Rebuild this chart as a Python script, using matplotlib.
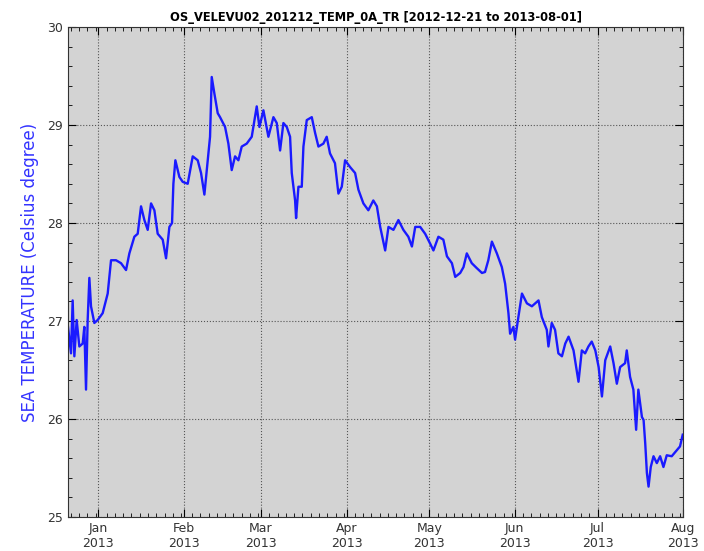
import numpy as np
import pandas as pd
import matplotlib
matplotlib.use('Agg')
import matplotlib.pyplot as plt
import matplotlib.dates as mdates

# values: days since 2012-12-21 and temperature (deg C)
start = pd.Timestamp('2012-12-21')
days = [0.0, 1.09, 1.69, 2.3, 3.14, 4.11, 5.32, 5.92, 6.53, 7.13, 7.74, 8.34, 9.55, 10.76,
        12.57, 14.39, 15.6, 17.41, 19.22, 21.04, 22.25, 24.06, 25.27, 26.48, 27.69, 28.9,
        30.11, 31.32, 32.52, 34.34, 35.55, 36.76, 37.72, 38.21, 38.93, 40.38, 41.59, 43.4,
        45.22, 47.03, 48.24, 49.45, 50.66, 51.5, 52.11, 53.08, 54.29,
        55.13, 56.95, 58.15, 59.36, 60.57, 61.78, 62.99, 64.8, 66.62, 68.43, 69.4, 70.85,
        72.66, 74.48, 75.69, 76.9, 78.1, 79.32, 80.52, 81.13, 82.34, 82.7, 83.55, 84.76,
        85.36, 86.57, 88.39, 89.59, 90.8, 92.6, 93.8, 95.0, 96.8, 98.05, 99.27, 100.47,
        102.3, 104.1, 105.3, 107.1, 108.9, 110.7, 112.0,
        113.2, 115.0, 116.2, 118.0, 119.8, 121.6, 123.4, 124.7, 125.9, 127.7, 129.5, 131.3,
        132.5, 134.3, 136.1, 137.4, 139.2, 140.4, 142.2, 143.4, 144.6, 146.4, 148.2, 150.1,
        151.2, 152.4, 153.7, 155.5, 157.3, 158.5, 159.7, 160.3, 161.5, 162.1, 163.3, 164.6,
        166.4, 168.2,
        170.6, 171.8, 173.6, 174.2, 175.4, 176.6, 177.8, 179.1, 180.3, 181.5, 183.3, 185.1,
        186.3, 187.5, 188.7, 189.9, 191.2, 192.4, 193.6, 194.8, 196.6, 197.8, 199.0, 200.2,
        202.0, 202.6, 203.8, 205.0, 206.0, 206.8, 208.1, 208.7, 209.3, 209.9, 210.5, 211.3,
        212.3, 213.5, 214.7, 215.9, 217.1, 218.9, 220.7, 221.9, 222.9]
temps = [26.94, 26.67, 27.21, 26.64, 27.01, 26.74, 26.77, 26.94, 26.30, 27.01, 27.44, 27.15, 26.98, 27.01,
         27.08, 27.28, 27.62, 27.62, 27.59, 27.52, 27.69, 27.86, 27.89, 28.17, 28.03, 27.93,
         28.20, 28.13, 27.89, 27.83, 27.64, 27.96, 28.00, 28.40, 28.64, 28.47, 28.42, 28.40,
         28.68, 28.64, 28.51, 28.29, 28.64, 28.88, 29.49, 29.32, 29.12,
         29.08, 28.98, 28.81, 28.54, 28.68, 28.64, 28.78, 28.81, 28.88, 29.19, 28.98, 29.15,
         28.88, 29.08, 29.02, 28.74, 29.02, 28.98, 28.88, 28.51, 28.23, 28.05, 28.37, 28.37,
         28.78, 29.05, 29.08, 28.92, 28.78, 28.81, 28.88, 28.71, 28.61, 28.30, 28.37, 28.64,
         28.57, 28.51, 28.34, 28.20, 28.13, 28.23, 28.17,
         27.96, 27.72, 27.96, 27.93, 28.03, 27.93, 27.86, 27.76, 27.96, 27.96, 27.89, 27.79,
         27.72, 27.86, 27.83, 27.66, 27.59, 27.45, 27.49, 27.55, 27.69, 27.59, 27.54, 27.49,
         27.50, 27.62, 27.81, 27.69, 27.55, 27.38, 27.08, 26.87, 26.94, 26.81, 27.04, 27.28,
         27.18, 27.15,
         27.21, 27.04, 26.91, 26.74, 26.98, 26.91, 26.67, 26.64, 26.77, 26.84, 26.70, 26.38,
         26.70, 26.67, 26.74, 26.79, 26.70, 26.53, 26.23, 26.60, 26.74, 26.57, 26.36, 26.53,
         26.57, 26.70, 26.43, 26.30, 25.89, 26.30, 26.02, 25.99, 25.75, 25.45, 25.31, 25.51,
         25.62, 25.55, 25.62, 25.51, 25.63, 25.62, 25.68, 25.72, 25.84]

dates = start + pd.to_timedelta(days, unit='D')

fig = plt.figure(figsize=(7.04, 5.51), dpi=100)
ax = fig.add_axes([0.0966, 0.0617, 0.8736, 0.8893])
ax.set_facecolor('#d3d3d3')

ax.plot(dates, temps, color='#1a1aff', lw=1.7)

ax.set_xlim(pd.Timestamp('2012-12-21'), pd.Timestamp('2013-08-01'))
ax.set_ylim(25, 30)
ax.xaxis.set_major_locator(mdates.MonthLocator())
ax.xaxis.set_major_formatter(mdates.DateFormatter('%b\n%Y'))
ax.xaxis.set_minor_locator(mdates.DayLocator(bymonthday=range(1, 32, 3)))
ax.set_yticks([25, 26, 27, 28, 29, 30])
ax.yaxis.set_minor_locator(plt.MultipleLocator(0.2))

ax.tick_params(which='both', direction='in', top=True, right=True, labelsize=9,
               labelcolor='#333333')
ax.tick_params(which='major', length=6)
ax.tick_params(which='minor', length=3)
for lbl in ax.get_xticklabels():
    lbl.set_horizontalalignment('center')

ax.grid(True, which='major', ls=':', color='#555555', lw=0.8)
for s in ax.spines.values():
    s.set_color('#333333')

ax.set_ylabel('SEA TEMPERATURE (Celsius degree)', color='#3333ff', fontsize=12, labelpad=6)
ax.set_title('OS_VELEVU02_201212_TEMP_0A_TR [2012-12-21 to 2013-08-01]',
             fontsize=8.3, fontweight='bold', pad=4)

fig.savefig('out.png', dpi=100)
